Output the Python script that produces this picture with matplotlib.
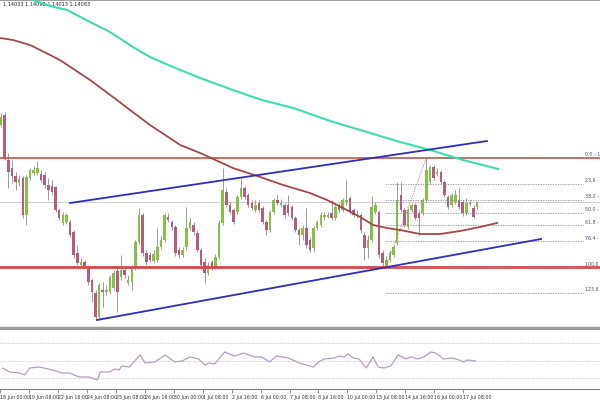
import numpy as np
import matplotlib
matplotlib.use("Agg")
import matplotlib.pyplot as plt

# ---- data (EURUSD H4) ----
opens = [1.1485, 1.1495, 1.1450, 1.1442, 1.1434, 1.1427, 1.1432, 1.1395, 1.1432, 1.1437,
         1.1437, 1.1436, 1.1435, 1.1425, 1.1424, 1.1423, 1.1400, 1.1387, 1.1388, 1.1388,
         1.1378, 1.1357, 1.1345, 1.1348, 1.1342, 1.1330, 1.1317, 1.1293, 1.1320, 1.1318,
         1.1318, 1.1322, 1.1339, 1.1333, 1.1340, 1.1327, 1.1328, 1.1342, 1.1368, 1.1395,
         1.1357, 1.1355, 1.1349, 1.1350, 1.1363, 1.1370, 1.1393, 1.1388, 1.1383, 1.1360,
         1.1355, 1.1363, 1.1382, 1.1385, 1.1377, 1.1360, 1.1348, 1.1337, 1.1348, 1.1343,
         1.1353, 1.1387, 1.1418, 1.1405, 1.1400, 1.1398, 1.1413, 1.1422, 1.1415, 1.1407,
         1.1400, 1.1407, 1.1402, 1.1388, 1.1380, 1.1398, 1.1410, 1.1405, 1.1405, 1.1405,
         1.1403, 1.1392, 1.1380, 1.1375, 1.1382, 1.1370, 1.1362, 1.1382, 1.1385, 1.1393,
         1.1393, 1.1397, 1.1392, 1.1405, 1.1400, 1.1408, 1.1412, 1.1400, 1.1394, 1.1395,
         1.1375, 1.1362, 1.1370, 1.1398, 1.1398, 1.1357, 1.1343, 1.1350, 1.1355, 1.1367,
         1.1415, 1.1400, 1.1383, 1.1400, 1.1405, 1.1397, 1.1397, 1.1410, 1.1428, 1.1443,
         1.1436, 1.1438, 1.1428, 1.1413, 1.1405, 1.1408, 1.1410, 1.1408, 1.1397, 1.1407,
         1.1402, 1.1403]
highs = [1.1497, 1.1498, 1.1457, 1.1450, 1.1438, 1.1435, 1.1434, 1.1435, 1.1442, 1.1444,
         1.1449, 1.1440, 1.1438, 1.1432, 1.1430, 1.1424, 1.1402, 1.1398, 1.1397, 1.1390,
         1.1380, 1.1365, 1.1352, 1.1350, 1.1344, 1.1332, 1.1320, 1.1327, 1.1328, 1.1325,
         1.1335, 1.1340, 1.1342, 1.1355, 1.1342, 1.1335, 1.1345, 1.1370, 1.1402, 1.1397,
         1.1360, 1.1358, 1.1360, 1.1382, 1.1374, 1.1397, 1.1397, 1.1390, 1.1385, 1.1363,
         1.1363, 1.1403, 1.1392, 1.1388, 1.1380, 1.1362, 1.1352, 1.1348, 1.1350, 1.1356,
         1.1390, 1.1442, 1.1422, 1.1408, 1.1402, 1.1415, 1.1432, 1.1424, 1.1417, 1.1410,
         1.1410, 1.1410, 1.1404, 1.1390, 1.1400, 1.1412, 1.1415, 1.1411, 1.1407, 1.1415,
         1.1405, 1.1394, 1.1382, 1.1385, 1.1402, 1.1372, 1.1384, 1.1390, 1.1398, 1.1398,
         1.1398, 1.1410, 1.1405, 1.1407, 1.1412, 1.1430, 1.1414, 1.1402, 1.1400, 1.1397,
         1.1378, 1.1375, 1.1414, 1.1408, 1.1400, 1.1360, 1.1354, 1.1360, 1.1365, 1.1428,
         1.1428, 1.1402, 1.1402, 1.1407, 1.1407, 1.1400, 1.1412, 1.1452, 1.1445, 1.1445,
         1.1442, 1.1440, 1.1430, 1.1415, 1.1417, 1.1420, 1.1422, 1.1410, 1.1412, 1.1410,
         1.1405, 1.1409]
lows = [1.1483, 1.1450, 1.1422, 1.1427, 1.1420, 1.1424, 1.1392, 1.1385, 1.1430, 1.1435,
        1.1435, 1.1428, 1.1422, 1.1410, 1.1415, 1.1398, 1.1390, 1.1385, 1.1386, 1.1373,
        1.1352, 1.1345, 1.1343, 1.1342, 1.1325, 1.1308, 1.1290, 1.1290, 1.1303, 1.1315,
        1.1316, 1.1320, 1.1298, 1.1330, 1.1332, 1.1325, 1.1320, 1.1340, 1.1366, 1.1354,
        1.1345, 1.1348, 1.1347, 1.1348, 1.1361, 1.1368, 1.1388, 1.1380, 1.1354, 1.1352,
        1.1353, 1.1360, 1.1380, 1.1375, 1.1358, 1.1340, 1.1327, 1.1335, 1.1340, 1.1341,
        1.1351, 1.1385, 1.1403, 1.1396, 1.1386, 1.1396, 1.1411, 1.1411, 1.1403, 1.1400,
        1.1398, 1.1398, 1.1386, 1.1375, 1.1378, 1.1396, 1.1405, 1.1403, 1.1392, 1.1394,
        1.1390, 1.1378, 1.1365, 1.1370, 1.1362, 1.1358, 1.1358, 1.1380, 1.1383, 1.1390,
        1.1392, 1.1390, 1.1390, 1.1398, 1.1398, 1.1405, 1.1396, 1.1393, 1.1392, 1.1377,
        1.1350, 1.1352, 1.1368, 1.1396, 1.1352, 1.1344, 1.1343, 1.1348, 1.1353, 1.1365,
        1.1398, 1.1383, 1.1381, 1.1398, 1.1390, 1.1375, 1.1395, 1.1408, 1.1426, 1.1430,
        1.1434, 1.1426, 1.1413, 1.1401, 1.1403, 1.1406, 1.1401, 1.1394, 1.1395, 1.1404,
        1.1392, 1.1401]
closes = [1.1493, 1.1452, 1.1438, 1.1434, 1.1428, 1.1431, 1.1395, 1.1433, 1.1440, 1.1440,
          1.1442, 1.1430, 1.1425, 1.1420, 1.1418, 1.1400, 1.1392, 1.1395, 1.1395, 1.1375,
          1.1355, 1.1347, 1.1348, 1.1343, 1.1328, 1.1318, 1.1293, 1.1325, 1.1318, 1.1320,
          1.1333, 1.1337, 1.1318, 1.1340, 1.1335, 1.1330, 1.1342, 1.1368, 1.1395, 1.1357,
          1.1348, 1.1350, 1.1356, 1.1363, 1.1370, 1.1395, 1.1390, 1.1383, 1.1357, 1.1355,
          1.1360, 1.1382, 1.1388, 1.1378, 1.1360, 1.1345, 1.1337, 1.1345, 1.1343, 1.1353,
          1.1387, 1.1420, 1.1405, 1.1398, 1.1388, 1.1413, 1.1422, 1.1413, 1.1405, 1.1402,
          1.1405, 1.1400, 1.1388, 1.1380, 1.1398, 1.1410, 1.1407, 1.1407, 1.1395, 1.1397,
          1.1392, 1.1380, 1.1375, 1.1382, 1.1365, 1.1360, 1.1382, 1.1388, 1.1395, 1.1395,
          1.1395, 1.1392, 1.1403, 1.1400, 1.1410, 1.1410, 1.1398, 1.1395, 1.1396, 1.1380,
          1.1362, 1.1370, 1.1403, 1.1405, 1.1355, 1.1347, 1.1350, 1.1357, 1.1363, 1.1410,
          1.1400, 1.1385, 1.1400, 1.1405, 1.1392, 1.1392, 1.1410, 1.1440, 1.1443, 1.1432,
          1.1438, 1.1428, 1.1415, 1.1403, 1.1415, 1.1415, 1.1403, 1.1397, 1.1407, 1.1406,
          1.1393, 1.14083]

# moving averages (bar index, value)
ma_slow_x = [8.8, 13.5, 18.2, 24.5, 30.0, 36.3, 41.0, 47.3, 54.8, 63.8, 71.8, 80.4,
             91.4, 100.7, 109.8, 118.1, 127.1, 136.8]
ma_slow = [1.1610, 1.1604, 1.1600, 1.1588, 1.1578, 1.1563, 1.1553, 1.1543, 1.1532,
           1.1520, 1.1510, 1.1502, 1.1488, 1.1478, 1.1468, 1.1460, 1.1450, 1.1441]
ma_fast_x = [-0.3, 3.3, 8.0, 13.5, 16.2, 24.5, 31.9, 35.5, 41.0, 49.3, 54.8, 63.8, 71.3,
             77.6, 85.0, 89.7, 94.1, 98.8, 102.4, 106.2, 109.8, 115.3, 120.8, 126.3,
             131.8, 136.5]
ma_fast = [1.1572, 1.1570, 1.1565, 1.1555, 1.1550, 1.1530, 1.1510, 1.1500, 1.1485,
           1.1465, 1.1457, 1.1442, 1.1433, 1.1425, 1.1417, 1.1410, 1.1402, 1.1393,
           1.1385, 1.1382, 1.1380, 1.1376, 1.1376, 1.1379, 1.1383, 1.1387]

# channel lines and horizontal levels
upper_line = [(19.0, 1.1407), (133.7, 1.1469)]
lower_line = [(26.4, 1.1290), (148.6, 1.1371)]
resist_level = 1.1452
support_level = 1.1343

# fibonacci retracement
fib_low = (106, 1.1343)
fib_high = (117, 1.1452)
fib_ratios = [0.0, 23.6, 38.2, 50.0, 61.8, 76.4, 100.0, 123.6]

# RSI
rsi_x = [-0.3, 1.7, 4.4, 5.8, 7.2, 9.9, 13.5, 16.2, 18.2, 20.9, 23.7, 25.9, 26.7, 29.2,
         30.8, 31.9, 32.7, 34.7, 36.0, 37.7, 39.1, 41.8, 44.6, 47.3, 49.3, 51.5, 53.9,
         55.6, 56.7, 58.3, 61.1, 63.8, 66.3, 69.3, 71.3, 73.5, 75.4, 78.7, 81.7, 85.6,
         87.0, 88.6, 91.4, 92.7, 94.1, 95.2, 96.6, 98.2, 100.2, 102.1, 103.5, 105.1,
         107.0, 109.0, 111.2, 112.6, 114.5, 116.1, 118.1, 119.4, 121.6, 124.1, 125.8,
         127.1, 128.2, 130.4]
rsi = [42.0, 37.4, 36.3, 34.0, 42.0, 43.1, 39.7, 36.3, 36.3, 31.7, 31.7, 28.3, 37.4, 37.4,
       40.9, 39.7, 44.3, 43.1, 48.9, 56.9, 47.7, 48.9, 56.9, 48.9, 50.0, 54.6, 52.3,
       45.4, 47.7, 46.6, 60.3, 55.7, 59.1, 54.6, 54.6, 48.9, 55.7, 53.4, 47.7, 43.1,
       48.9, 52.3, 53.4, 55.7, 54.6, 58.0, 53.4, 52.3, 42.0, 54.6, 43.1, 42.0, 44.3,
       56.9, 52.3, 54.6, 52.3, 54.6, 60.3, 59.1, 52.3, 53.4, 51.1, 48.9, 51.1, 50.0]
rsi_levels = [30, 50, 70]

tick_labels = ["18 Jun 00:00", "19 Jun 08:00", "22 Jun 16:00", "24 Jun 08:00",
               "25 Jun 08:00", "26 Jun 16:00", "30 Jun 00:00", "1 Jul 08:00",
               "2 Jul 16:00", "6 Jul 00:00", "7 Jul 08:00", "8 Jul 16:00",
               "10 Jul 00:00", "13 Jul 08:00", "14 Jul 16:00", "16 Jul 00:00",
               "17 Jul 08:00"]

# ---- plot ----
fig = plt.figure(figsize=(6, 4), dpi=100)
ax = fig.add_axes([0, 72 / 400, 1, 328 / 400])
ax2 = fig.add_axes([0, 11 / 400, 1, 59 / 400])

xlim = (-0.275, 164.8)
o = np.array(opens)
c = np.array(closes)
h = np.array(highs)
l = np.array(lows)
x = np.arange(len(o))
up = c >= o

ax.vlines(x, l, h, color="#9c9c9c", lw=0.7, zorder=2)
body = np.maximum(np.abs(c - o), 0.00008)
ax.bar(x, body, bottom=np.minimum(o, c), width=0.7,
       color=np.where(up, "#86c04a", "#b65c7e"), edgecolor="none", zorder=3)

ax.axhline(closes[-1], color="#cfcfcf", lw=0.7, zorder=1)
ax.axhline(resist_level, color="#d24a4a", lw=1.2, zorder=4)
ax.axhline(support_level, color="#d24a4a", lw=2.0, zorder=4)

ax.plot(ma_slow_x, ma_slow, color="#3fdcb0", lw=1.5, zorder=5)
ax.plot(ma_fast_x, ma_fast, color="#a34848", lw=1.3, zorder=5)

for line in (upper_line, lower_line):
    xs, ys = zip(*line)
    ax.plot(xs, ys, color="#2e2ebd", lw=1.3, zorder=5)

# fib levels
rng = fib_high[1] - fib_low[1]
fib_end = 160.2
for r in fib_ratios:
    lvl = fib_high[1] - rng * r / 100
    ax.plot([fib_low[0] - 0.3, fib_end], [lvl, lvl], color="#8c8c8c", lw=0.6,
            ls=(0, (1.5, 1.5)), zorder=4)
    ax.text(fib_end + 0.5, lvl + 0.00005, "%.1f - %.4f" % (r, lvl), fontsize=3.4,
            color="#4a4a7a", va="bottom", ha="left", zorder=6)
ax.plot([fib_low[0], fib_high[0]], [fib_low[1], fib_high[1]], color="#c07070",
        lw=0.6, ls=(0, (1.5, 1.5)), zorder=4)

ax.text(0.005, 0.995, "%.5f %.5f %.5f %.5f" % (opens[-1] + 0.00003, 1.14092, 1.14013, closes[-1]),
        transform=ax.transAxes, fontsize=3.6, va="top", ha="left", color="#222222")

ax.set_xlim(*xlim)
ax.set_ylim(1.1282, 1.1610)
ax.set_xticks([])
ax.set_yticks([])
for s in ("left", "right"):
    ax.spines[s].set_visible(False)
ax.spines["top"].set_color("#a0a0a0")
ax.spines["top"].set_linewidth(1.5)
ax.spines["bottom"].set_color("#9a9a9a")
ax.spines["bottom"].set_linewidth(2.5)

# RSI panel
for lv in rsi_levels:
    ax2.axhline(lv, color="#c8c8c8", lw=0.6, ls=(0, (1.5, 1.5)))
ax2.plot(rsi_x, rsi, color="#b89ac8", lw=0.9)
ax2.set_xlim(*xlim)
ax2.set_ylim(18, 85.4)
ax2.set_yticks([])
ticks = [-1 + 8 * k for k in range(len(tick_labels))]
ax2.set_xticks(ticks)
ax2.set_xticklabels(tick_labels, fontsize=3.4, ha="left", color="#333333")
ax2.tick_params(axis="x", length=3, width=0.5, color="#666666", pad=1)
for s in ("left", "right", "top"):
    ax2.spines[s].set_visible(False)
ax2.spines["bottom"].set_color("#808080")
ax2.spines["bottom"].set_linewidth(0.8)

fig.savefig("out.png", dpi=100)
